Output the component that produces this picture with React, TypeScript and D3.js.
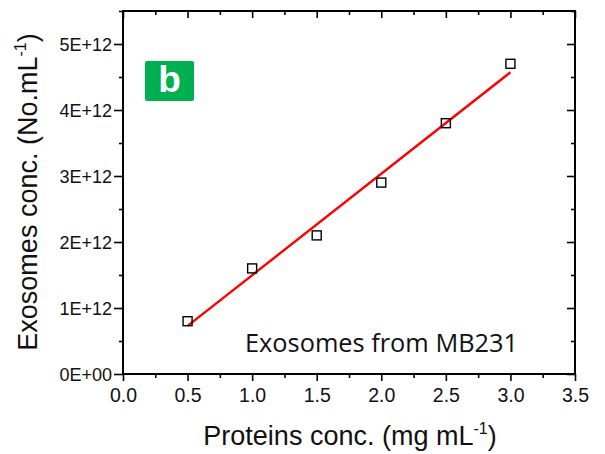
import React, { useEffect, useRef } from "react";
import * as d3 from "d3";

// measured points (protein mg/mL vs exosome count /mL)
const proteinConc = [0.5, 1.0, 1.5, 2.0, 2.5, 3.0];
const exosomeConc = [0.8e12, 1.6e12, 2.1e12, 2.9e12, 3.8e12, 4.7e12];
const xTicks = [0, 0.5, 1.0, 1.5, 2.0, 2.5, 3.0, 3.5];
const xMinor = [0.25, 0.75, 1.25, 1.75, 2.25, 2.75, 3.25];
const yTicks = [0, 1e12, 2e12, 3e12, 4e12, 5e12];
const yMinor = [0.5e12, 1.5e12, 2.5e12, 3.5e12, 4.5e12, 5.5e12];
const yTickLabels = ["0E+00", "1E+12", "2E+12", "3E+12", "4E+12", "5E+12"];
const annotation = "Exosomes from MB231";
const panelLetter = "b";

const W = 605;
const H = 454;
const margin = { top: 11, right: 30, bottom: 80, left: 123 };

export default function App() {
    const svgRef = useRef<SVGSVGElement>(null);

    useEffect(() => {
        const svg = d3.select(svgRef.current);
        svg.selectAll("*").remove();

        const x = d3.scaleLinear().domain([0, 3.5]).range([margin.left, W - margin.right]);
        const y = d3.scaleLinear().domain([0, 5.5e12]).range([H - margin.bottom, margin.top]);
        const x0 = x(0), x1 = x(3.5), y0 = y(0), y1 = y(5.5e12);

        const font = "Arial, 'Liberation Sans', sans-serif";

        // least squares fit
        const mx = d3.mean(proteinConc) as number;
        const my = d3.mean(exosomeConc) as number;
        const sxy = d3.sum(proteinConc, (v, i) => (v - mx) * (exosomeConc[i] - my));
        const sxx = d3.sum(proteinConc, (v) => (v - mx) ** 2);
        const slope = sxy / sxx;
        const icpt = my - slope * mx;
        const fitX = [d3.min(proteinConc) as number, d3.max(proteinConc) as number];

        // bottom axis (outward ticks)
        const gb = svg.append("g").attr("transform", `translate(0,${y0})`);
        gb.call(d3.axisBottom(x).tickValues(xMinor).tickSize(4).tickSizeOuter(0).tickFormat(() => ""));
        gb.append("g").call(
            d3.axisBottom(x).tickValues(xTicks).tickSize(7).tickSizeOuter(0).tickFormat(d3.format(".1f"))
        );
        gb.selectAll(".domain").remove();
        gb.selectAll("line").attr("stroke", "#000").attr("stroke-width", 1.6);
        gb.selectAll("text")
            .attr("y", 14)
            .attr("dy", "0.71em")
            .attr("fill", "#111")
            .style("font-family", font)
            .style("font-size", "19.5px");

        // left axis (outward ticks)
        const gl = svg.append("g").attr("transform", `translate(${x0},0)`);
        gl.call(d3.axisLeft(y).tickValues(yMinor).tickSize(4).tickSizeOuter(0).tickFormat(() => ""));
        gl.append("g").call(
            d3.axisLeft(y)
                .tickValues(yTicks)
                .tickSize(9)
                .tickSizeOuter(0)
                .tickFormat((_, i) => yTickLabels[i])
        );
        gl.selectAll(".domain").remove();
        gl.selectAll("line").attr("stroke", "#000").attr("stroke-width", 1.6);
        gl.selectAll("text")
            .attr("x", -11)
            .attr("dy", "0.36em")
            .attr("fill", "#111")
            .style("font-family", font)
            .style("font-size", "18px");

        // top axis (inward ticks)
        const gt = svg.append("g").attr("transform", `translate(0,${y1})`);
        gt.call(d3.axisTop(x).tickValues(xMinor).tickSize(-4).tickSizeOuter(0).tickFormat(() => ""));
        gt.append("g").call(d3.axisTop(x).tickValues(xTicks).tickSize(-7).tickSizeOuter(0).tickFormat(() => ""));
        gt.selectAll(".domain").remove();
        gt.selectAll("line").attr("stroke", "#000").attr("stroke-width", 1.6);

        // right axis (inward ticks)
        const gr = svg.append("g").attr("transform", `translate(${x1},0)`);
        gr.call(d3.axisRight(y).tickValues(yMinor).tickSize(-4).tickSizeOuter(0).tickFormat(() => ""));
        gr.append("g").call(d3.axisRight(y).tickValues(yTicks).tickSize(-8).tickSizeOuter(0).tickFormat(() => ""));
        gr.selectAll(".domain").remove();
        gr.selectAll("line").attr("stroke", "#000").attr("stroke-width", 1.6);

        // frame
        svg.append("rect")
            .attr("x", x0)
            .attr("y", y1)
            .attr("width", x1 - x0)
            .attr("height", y0 - y1)
            .attr("fill", "none")
            .attr("stroke", "#000")
            .attr("stroke-width", 2);

        // fit line
        svg.append("line")
            .attr("x1", x(fitX[0]))
            .attr("y1", y(icpt + slope * fitX[0]))
            .attr("x2", x(fitX[1]))
            .attr("y2", y(icpt + slope * fitX[1]))
            .attr("stroke", "#ff0000")
            .attr("stroke-width", 2.4);

        // markers
        const s = 9;
        svg.selectAll(".pt")
            .data(proteinConc)
            .enter()
            .append("rect")
            .attr("x", (d) => x(d) - s / 2)
            .attr("y", (d, i) => y(exosomeConc[i]) - s / 2)
            .attr("width", s)
            .attr("height", s)
            .attr("fill", "none")
            .attr("stroke", "#000")
            .attr("stroke-width", 1.4);

        // panel label
        svg.append("rect")
            .attr("x", 145)
            .attr("y", 61)
            .attr("width", 49)
            .attr("height", 40)
            .attr("rx", 2)
            .attr("fill", "#00b050");
        svg.append("text")
            .attr("x", 169.5)
            .attr("y", 92)
            .attr("text-anchor", "middle")
            .attr("fill", "#fff")
            .style("font-family", font)
            .style("font-weight", "bold")
            .style("font-size", "37px")
            .text(panelLetter);

        // annotation
        svg.append("text")
            .attr("x", 245)
            .attr("y", 352)
            .attr("fill", "#111")
            .attr("textLength", 273)
            .attr("lengthAdjust", "spacingAndGlyphs")
            .style("font-family", "'Open Sans', sans-serif")
            .style("font-size", "25.5px")
            .text(annotation);

        // axis titles
        const xt = svg.append("text")
            .attr("x", 350)
            .attr("y", 445)
            .attr("text-anchor", "middle")
            .attr("fill", "#111")
            .style("font-family", font)
            .style("font-size", "27px");
        xt.append("tspan").text("Proteins conc. (mg mL");
        xt.append("tspan").attr("dy", -11).style("font-size", "16px").text("-1");
        xt.append("tspan").attr("dy", 11).text(")");

        const yt = svg.append("text")
            .attr("transform", `translate(37,192) rotate(-90)`)
            .attr("text-anchor", "middle")
            .attr("fill", "#111")
            .style("font-family", font)
            .style("font-size", "27px");
        yt.append("tspan").text("Exosomes conc. (No.mL");
        yt.append("tspan").attr("dy", -11).style("font-size", "16px").text("-1");
        yt.append("tspan").attr("dy", 11).text(")");
    }, []);

    return (
        <svg
            ref={svgRef}
            width={W}
            height={H}
            style={{ position: "absolute", left: 0, top: 0, background: "#fff" }}
        ></svg>
    );
}
